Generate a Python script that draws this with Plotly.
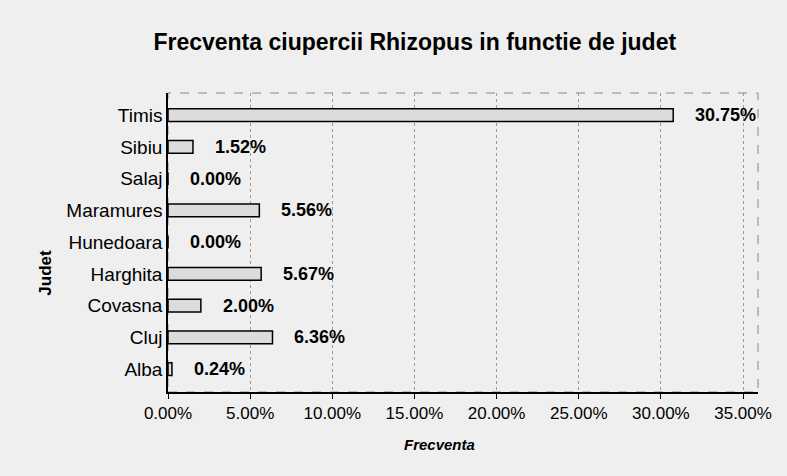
import plotly.graph_objects as go

categories = ["Alba", "Cluj", "Covasna", "Harghita", "Hunedoara", "Maramures", "Salaj", "Sibiu", "Timis"]
values = [0.24, 6.36, 2.00, 5.67, 0.00, 5.56, 0.00, 1.52, 30.75]
tick_vals = [0, 5, 10, 15, 20, 25, 30, 35]
tick_text = ["0.00%", "5.00%", "10.00%", "15.00%", "20.00%", "25.00%", "30.00%", "35.00%"]

FONT = "Arial, Liberation Sans, sans-serif"

fig = go.Figure()
fig.add_trace(go.Bar(
    y=categories, x=values, orientation="h", width=0.4,
    marker=dict(color="#dcdcdc", line=dict(color="#000000", width=1.5)),
    hoverinfo="x+y", showlegend=False,
))

for c, v in zip(categories, values):
    fig.add_annotation(x=v, y=c, text=f"<b>{v:.2f}%</b>", showarrow=False,
                       xanchor="left", yanchor="middle", xshift=20,
                       font=dict(family=FONT, size=18, color="#000000"))

fig.add_annotation(x=-0.208, y=0.40, xref="paper", yref="paper", text="<b>Judet</b>",
                   textangle=-90, showarrow=False, xanchor="center", yanchor="middle",
                   font=dict(family=FONT, size=17, color="#000000"))
fig.add_annotation(x=0.46, y=-0.177, xref="paper", yref="paper", text="<b><i>Frecventa</i></b>",
                   showarrow=False, xanchor="center", yanchor="middle",
                   font=dict(family=FONT, size=15, color="#000000"))

fig.update_layout(
    width=787, height=476,
    margin=dict(l=168, r=29, t=93, b=84),
    paper_bgcolor="#efefef", plot_bgcolor="#efefef",
    title=dict(text="<b>Frecventa ciupercii Rhizopus in functie de judet</b>",
               x=0.527, xref="container", y=0.912, yref="container",
               xanchor="center", yanchor="middle",
               font=dict(family=FONT, size=23, color="#000000")),
    font=dict(family=FONT, size=18, color="#000000"),
    xaxis=dict(range=[0, 35.91], tickvals=tick_vals, ticktext=tick_text,
               showgrid=True, gridcolor="#9a9a9a", griddash="dot", gridwidth=1,
               showline=True, linecolor="#000000", linewidth=1.5, mirror=False,
               ticks="outside", ticklen=5, tickcolor="#000000", zeroline=False,
               tickfont=dict(family=FONT, size=17)),
    yaxis=dict(range=[-0.72, 8.70], showgrid=False,
               showline=True, linecolor="#000000", linewidth=1.5,
               ticks="", ticklen=0,
               tickfont=dict(family=FONT, size=19)),
)
fig.add_shape(type="rect", xref="paper", yref="paper", x0=0, y0=0, x1=1, y1=1,
              line=dict(color="#888888", width=1, dash="dash"), layer="below")

fig.write_html("out.html", config={"displayModeBar": False},
               post_script="document.body.style.margin='0';")
